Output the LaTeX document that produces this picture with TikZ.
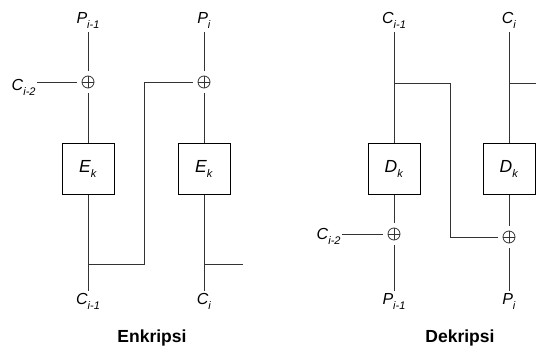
\documentclass[tikz,border=0pt]{standalone}
\usepackage{fontspec}
\setmainfont{Liberation Sans}
\newcommand{\sym}[2]{\textit{#1}\raisebox{-0.28em}{\fontsize{11}{12}\selectfont\textit{#2}}}
\tikzset{
    lbl/.style={inner sep=3pt, text height=11pt, text depth=5pt, font=\fontsize{16}{18}\selectfont},
    blok/.style={draw=black, minimum width=52pt, minimum height=51pt, inner sep=0pt, font=\fontsize{17.5}{20}\selectfont},
    xor/.style={circle, draw, minimum size=12pt, inner sep=0pt, outer sep=5pt,
        path picture={\draw (path picture bounding box.north) -- (path picture bounding box.south)
            (path picture bounding box.west) -- (path picture bounding box.east);}},
    judul/.style={anchor=base, font=\fontsize{17.5}{20}\selectfont\bfseries},
}
\begin{document}
\begin{tikzpicture}[x=1pt, y=1pt, line width=0.8pt, draw=black!80]
            \useasboundingbox (0,0) rectangle (536,350);
            % Enkripsi
            \node[lbl, anchor=base] (p1) at (88, 326) {\sym{P}{i-1}};
            \node[lbl, anchor=base] (p2) at (204, 326) {\sym{P}{i}};
            \node[xor] (xor1) at (88, 268) {};
            \node[xor] (xor2) at (204, 268) {};
            \node[lbl, anchor=base east, inner xsep=1pt] (c0) at (37, 259) {\sym{C}{i-2}};
            \node[blok] (e1) at (88, 181) {\sym{E}{k}};
            \node[blok] (e2) at (204, 181) {\sym{E}{k}};
            \node[lbl, anchor=base] (c1) at (88, 45) {\sym{C}{i-1}};
            \node[lbl, anchor=base] (c2) at (204, 45) {\sym{C}{i}};
            \coordinate (j1) at (88, 86);
            \coordinate (j2) at (204, 86);
            \coordinate (t1) at (144, 86);
            \coordinate (t2) at (144, 268);
            \coordinate (u2) at (243, 86);
            \draw (p1) -- (xor1);
            \draw (xor1) -- (xor1 -| c0.east);
            \draw (xor1) -- (e1);
            \draw (e1) -- (c1);
            \draw (j1) -- (t1) -- (t2) -- (xor2);
            \draw (p2) -- (xor2);
            \draw (xor2) -- (e2);
            \draw (e2) -- (c2);
            \draw (j2) -- (u2);
            \node[judul] (enk) at (152, 7) {Enkripsi};
            % Dekripsi
            \node[lbl, anchor=base] (c3) at (394, 326) {\sym{C}{i-1}};
            \node[lbl, anchor=base] (c4) at (509, 326) {\sym{C}{i}};
            \node[blok] (d1) at (394, 181) {\sym{D}{k}};
            \node[blok] (d2) at (509, 181) {\sym{D}{k}};
            \node[xor] (xor3) at (394, 116) {};
            \node[xor] (xor4) at (509, 113) {};
            \node[lbl, anchor=base east, inner xsep=1pt] (c5) at (342, 110) {\sym{C}{i-2}};
            \node[lbl, anchor=base] (p3) at (394, 45) {\sym{P}{i-1}};
            \node[lbl, anchor=base] (p4) at (509, 45) {\sym{P}{i}};
            \coordinate (k1) at (394, 267);
            \coordinate (k2) at (509, 267);
            \coordinate (s1) at (450, 267);
            \coordinate (s2) at (450, 113);
            \coordinate (v2) at (536, 267);
            \draw (c3) -- (d1);
            \draw (d1) -- (xor3);
            \draw (xor3) -- (p3);
            \draw (xor3) -- (xor3 -| c5.east);
            \draw (k1) -- (s1) -- (s2) -- (xor4);
            \draw (c4) -- (d2);
            \draw (d2) -- (xor4);
            \draw (xor4) -- (p4);
            \draw (k2) -- (v2);
            \node[judul] (dek) at (460, 7) {Dekripsi};
        \end{tikzpicture}
\end{document}
